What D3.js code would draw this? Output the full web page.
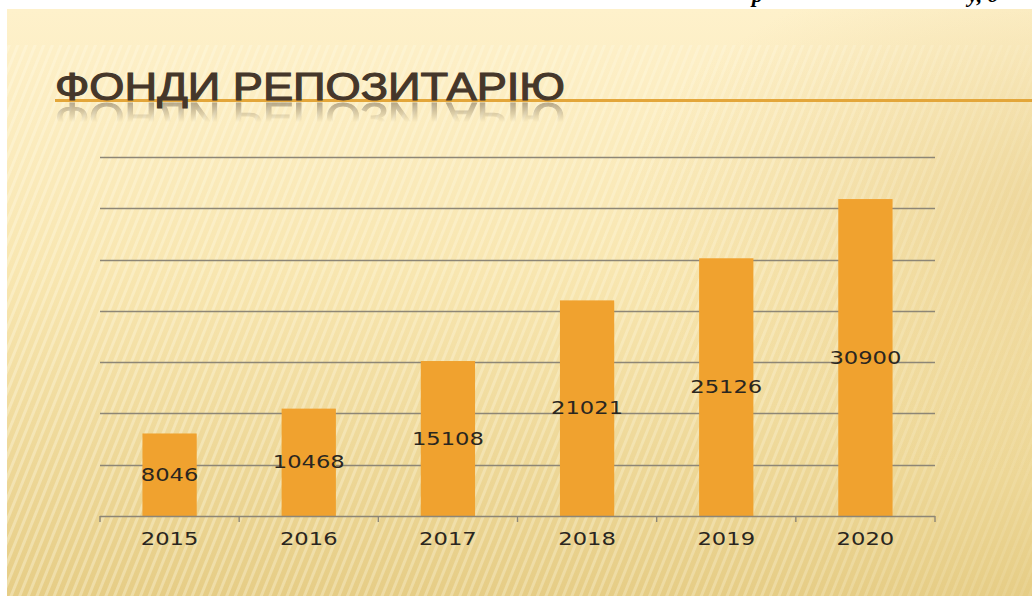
<!DOCTYPE html>
<html>
<head>
<meta charset="utf-8">
<script src="https://cdn.jsdelivr.net/npm/d3@7"></script>
<style>
  html, body { margin: 0; padding: 0; background: #fff; }
  svg { display: block; }
</style>
</head>
<body>
<svg width="1032" height="598"></svg>
<script>
// chart values
const years = ['2015', '2016', '2017', '2018', '2019', '2020']
const funds = [8046, 10468, 15108, 21021, 25126, 30900]
const grid_values = [5000, 10000, 15000, 20000, 25000, 30000, 35000]
const title_text = 'ФОНДИ РЕПОЗИТАРІЮ'

const bar_color = '#f0a22f',
    grid_color = '#8d8676',
    text_color = '#2a2620'

const svg = d3.select('svg'),
    width = +svg.attr('width'),
    height = +svg.attr('height')

const defs = svg.append('defs')

// slide background
const bg = defs.append('linearGradient').attr('id', 'bg')
    .attr('x1', 0).attr('y1', 0).attr('x2', 0).attr('y2', 1)
bg.append('stop').attr('offset', '0%').attr('stop-color', '#fef1cb')
bg.append('stop').attr('offset', '45%').attr('stop-color', '#f8e6b0')
bg.append('stop').attr('offset', '100%').attr('stop-color', '#e6cd86')

const side = defs.append('radialGradient').attr('id', 'side')
    .attr('cx', 1.05).attr('cy', 0.35).attr('r', 0.45)
side.append('stop').attr('offset', '0%').attr('stop-color', '#e2c57f').attr('stop-opacity', 0.55)
side.append('stop').attr('offset', '100%').attr('stop-color', '#e2c57f').attr('stop-opacity', 0)

const stripes = defs.append('pattern').attr('id', 'stripes')
    .attr('patternUnits', 'userSpaceOnUse')
    .attr('width', 8).attr('height', 8)
    .attr('patternTransform', 'rotate(22)')
stripes.append('rect').attr('width', 3).attr('height', 8)
    .attr('fill', '#fffbe8').attr('opacity', 0.35)

const stripe_fade = defs.append('linearGradient').attr('id', 'stripe_fade')
    .attr('x1', 0).attr('y1', 0).attr('x2', 1).attr('y2', 0)
stripe_fade.append('stop').attr('offset', '0%').attr('stop-color', '#fff').attr('stop-opacity', 1)
stripe_fade.append('stop').attr('offset', '75%').attr('stop-color', '#fff').attr('stop-opacity', 0.8)
stripe_fade.append('stop').attr('offset', '100%').attr('stop-color', '#fff').attr('stop-opacity', 0.3)
defs.append('mask').attr('id', 'stripe_mask')
    .append('rect').attr('x', 7).attr('y', 40).attr('width', width).attr('height', height)
    .attr('fill', 'url(#stripe_fade)')

svg.append('rect').attr('x', 7).attr('y', 9)
    .attr('width', width - 7).attr('height', 587)
    .attr('fill', 'url(#bg)')
svg.append('rect').attr('x', 7).attr('y', 9)
    .attr('width', width - 7).attr('height', 587)
    .attr('fill', 'url(#side)')
svg.append('rect').attr('x', 7).attr('y', 45)
    .attr('width', width - 7).attr('height', 551)
    .attr('fill', 'url(#stripes)')
    .attr('mask', 'url(#stripe_mask)')

// text of the page above the slide, only its lower edge shows
const top_text = svg.append('g').attr('clip-path', 'url(#topclip)')
defs.append('clipPath').attr('id', 'topclip')
    .append('rect').attr('x', 0).attr('y', 0).attr('width', width).attr('height', 9)
top_text.append('text').attr('x', 752).attr('y', 2)
    .style('font', 'italic bold 22px "Liberation Serif", serif').attr('fill', '#000')
    .text('р')
top_text.append('text').attr('x', 968).attr('y', 2)
    .style('font', 'italic bold 22px "Liberation Serif", serif').attr('fill', '#000')
    .text('у, д')

// title with orange rule and reflection
svg.append('line')
    .attr('x1', 55).attr('x2', width)
    .attr('y1', 100.5).attr('y2', 100.5)
    .style('stroke', '#e3a63a').style('stroke-width', 3)

const refl_fade = defs.append('linearGradient').attr('id', 'refl_fade')
    .attr('x1', 0).attr('y1', 0).attr('x2', 0).attr('y2', 1)
refl_fade.append('stop').attr('offset', '0%').attr('stop-color', '#fff').attr('stop-opacity', 0.45)
refl_fade.append('stop').attr('offset', '100%').attr('stop-color', '#fff').attr('stop-opacity', 0)
defs.append('mask').attr('id', 'refl_mask').attr('maskUnits', 'userSpaceOnUse')
    .append('rect').attr('x', 0).attr('y', 102).attr('width', width).attr('height', 20)
    .attr('fill', 'url(#refl_fade)')

const title_style = 'normal 38px "Liberation Sans Narrow", "Arial Narrow", "Liberation Sans", sans-serif'

svg.append('g').attr('mask', 'url(#refl_mask)')
    .append('text')
    .attr('transform', 'translate(0,203) scale(1,-1)')
    .attr('x', 55).attr('y', 100)
    .attr('textLength', 510).attr('lengthAdjust', 'spacingAndGlyphs')
    .style('font', title_style).attr('fill', '#5a4a38')
    .style('stroke', '#5a4a38').style('stroke-width', 1)
    .text(title_text)

svg.append('text')
    .attr('x', 55).attr('y', 100)
    .attr('textLength', 510).attr('lengthAdjust', 'spacingAndGlyphs')
    .style('font', title_style).attr('fill', '#45372a')
    .style('stroke', '#45372a').style('stroke-width', 1.1)
    .text(title_text)

// chart
const x = d3.scaleBand()
    .domain(years)
    .range([100, 935])
    .paddingInner(0.61)
    .paddingOuter(0.305)

const y = d3.scaleLinear()
    .domain([0, 35000])
    .range([516, 157])

svg.append('g').selectAll('line')
    .data(grid_values)
    .enter().append('line')
    .attr('x1', 100).attr('x2', 935)
    .attr('y1', (d) => Math.round(y(d)) + 0.5)
    .attr('y2', (d) => Math.round(y(d)) + 0.5)
    .style('stroke', grid_color)
    .style('stroke-width', 1.4)

svg.append('g').selectAll('rect')
    .data(funds)
    .enter().append('rect')
    .attr('x', (d, i) => x(years[i]))
    .attr('width', x.bandwidth())
    .attr('y', (d) => y(d))
    .attr('height', (d) => y(0) - y(d))
    .attr('fill', bar_color)

// category axis: baseline plus ticks between categories
const axis = svg.append('g')
axis.append('line')
    .attr('x1', 100).attr('x2', 935)
    .attr('y1', y(0) + 0.5).attr('y2', y(0) + 0.5)
    .style('stroke', grid_color).style('stroke-width', 1.4)
axis.selectAll('.tick')
    .data(d3.range(years.length + 1))
    .enter().append('line')
    .attr('x1', (i) => 100 + i * x.step())
    .attr('x2', (i) => 100 + i * x.step())
    .attr('y1', y(0)).attr('y2', y(0) + 6)
    .style('stroke', grid_color).style('stroke-width', 1.4)

const num_font = 'normal 17px "DejaVu Sans", sans-serif'

axis.selectAll('.year')
    .data(years)
    .enter().append('text')
    .attr('x', (d) => x(d) + x.bandwidth() / 2 - d.length * 7.2)
    .attr('y', 545)
    .attr('textLength', (d) => d.length * 14.4)
    .attr('lengthAdjust', 'spacingAndGlyphs')
    .style('font', num_font)
    .attr('fill', text_color)
    .text((d) => d)

// value labels in the middle of each bar
svg.append('g').selectAll('text')
    .data(funds)
    .enter().append('text')
    .attr('x', (d, i) => x(years[i]) + x.bandwidth() / 2 - String(d).length * 7.2)
    .attr('y', (d) => (y(d) + y(0)) / 2 + 6)
    .attr('textLength', (d) => String(d).length * 14.4)
    .attr('lengthAdjust', 'spacingAndGlyphs')
    .style('font', num_font)
    .attr('fill', text_color)
    .text((d) => d)
</script>
</body>
</html>
